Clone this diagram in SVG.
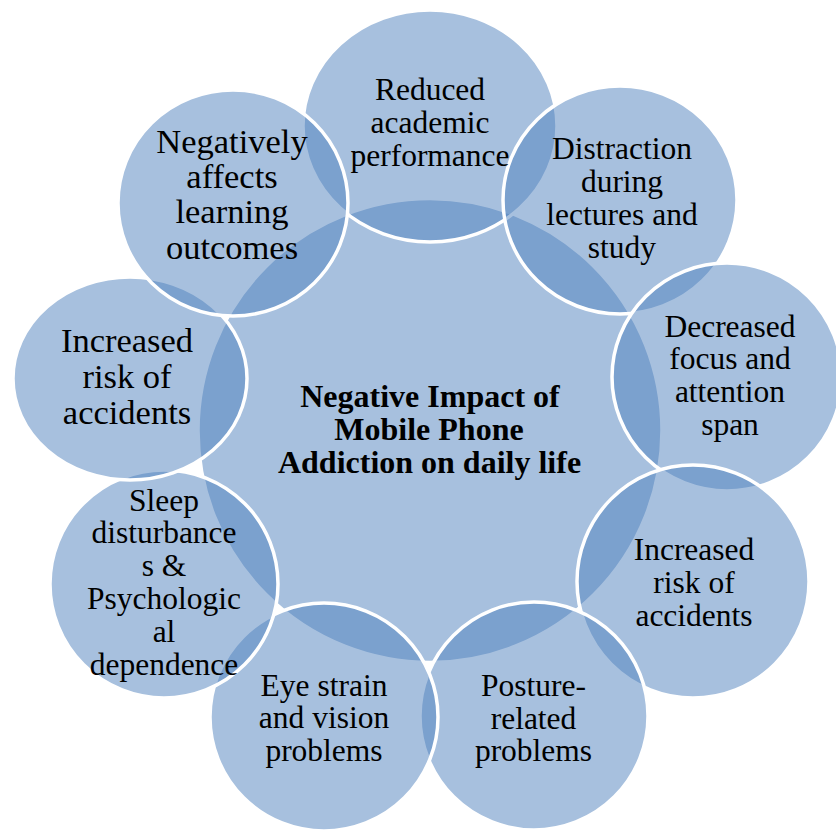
<svg xmlns="http://www.w3.org/2000/svg" width="836" height="830" viewBox="0 0 836 830">
<style>
.s{fill:#4F81BD;fill-opacity:0.5;stroke:#FFFFFF;stroke-width:3.5}
.t{font-family:"Liberation Serif","Times New Roman",serif;font-size:31.5px;fill:#000;text-anchor:middle}
.tb{font-size:34.5px}
.c{font-family:"Liberation Serif","Times New Roman",serif;font-size:32px;font-weight:bold;fill:#000;text-anchor:middle}
</style>
<rect width="836" height="830" fill="#FFFFFF"/>
<g id="connectors"></g>
<g id="center">
<circle class="s" cx="430" cy="430.5" r="232"/>
</g>
<g id="n1">
<ellipse class="s" cx="430" cy="126" rx="127" ry="116"/>
</g>
<g id="n2">
<ellipse class="s" cx="620" cy="200" rx="117" ry="114"/>
</g>
<g id="n3">
<ellipse class="s" cx="727" cy="377" rx="115" ry="114"/>
</g>
<g id="n4">
<ellipse class="s" cx="693" cy="581.5" rx="116" ry="116.5"/>
</g>
<g id="n5">
<ellipse class="s" cx="534" cy="716" rx="114" ry="114"/>
</g>
<g id="n6">
<ellipse class="s" cx="324" cy="717" rx="114" ry="114"/>
</g>
<g id="n7">
<ellipse class="s" cx="164" cy="584" rx="114" ry="114"/>
</g>
<g id="n8">
<ellipse class="s" cx="130" cy="378.5" rx="117" ry="101.5"/>
</g>
<g id="n9">
<ellipse class="s" cx="233" cy="203" rx="115" ry="113"/>
</g>
<g id="labels">
<text class="c" x="430" y="407">Negative Impact of</text>
<text class="c" x="429" y="440">Mobile Phone</text>
<text class="c" x="429.5" y="473">Addiction on daily life</text>

<text class="t" x="430" y="100">Reduced</text>
<text class="t" x="430" y="133">academic</text>
<text class="t" x="430" y="165.5">performance</text>

<text class="t" x="622" y="159">Distraction</text>
<text class="t" x="622" y="192">during</text>
<text class="t" x="622" y="225">lectures and</text>
<text class="t" x="622" y="257.5">study</text>

<text class="t" x="730" y="336.5">Decreased</text>
<text class="t" x="730" y="369">focus and</text>
<text class="t" x="730" y="401.5">attention</text>
<text class="t" x="730" y="434.5">span</text>

<text class="t" x="694" y="560">Increased</text>
<text class="t" x="694" y="593">risk of</text>
<text class="t" x="694" y="625.5">accidents</text>

<text class="t" x="533.5" y="696">Posture-</text>
<text class="t" x="533.5" y="728.5">related</text>
<text class="t" x="533.5" y="760.5">problems</text>

<text class="t" x="324" y="695.5">Eye strain</text>
<text class="t" x="324" y="728">and vision</text>
<text class="t" x="324" y="760.5">problems</text>

<text class="t" x="164" y="510.5">Sleep</text>
<text class="t" x="164" y="543.4">disturbance</text>
<text class="t" x="164" y="576.3">s &amp;</text>
<text class="t" x="164" y="609.2">Psychologic</text>
<text class="t" x="164" y="642.1">al</text>
<text class="t" x="164" y="675">dependence</text>

<text class="t tb" x="127" y="352">Increased</text>
<text class="t tb" x="127" y="388">risk of</text>
<text class="t tb" x="127" y="424">accidents</text>

<text class="t tb" x="232" y="152.5">Negatively</text>
<text class="t tb" x="232" y="188">affects</text>
<text class="t tb" x="232" y="223">learning</text>
<text class="t tb" x="232" y="258.5">outcomes</text>
</g>
</svg>
